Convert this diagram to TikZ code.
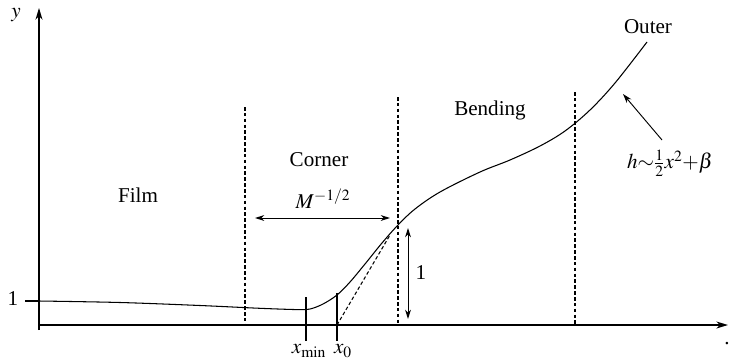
\documentclass[tikz,border=0pt]{standalone}
\usepackage{mathptmx}
\usepackage[no-math]{fontspec}
\setmainfont{Liberation Serif}
\usetikzlibrary{arrows.meta}

\begin{document}
\begin{tikzpicture}[
    x=0.03cm, y=-0.03cm,
    every node/.style={font=\fontsize{18}{21}\selectfont, inner sep=1pt},
    axis/.style={line width=1.1pt, -{Stealth[length=10pt,width=6pt,inset=3pt]}},
    region/.style={line width=0.9pt, dash pattern=on 3pt off 2pt},
    profile/.style={line width=0.9pt},
    tick/.style={line width=0.9pt},
    dim/.style={line width=0.8pt, {Stealth[length=8pt,width=5pt,inset=2.5pt]}-{Stealth[length=8pt,width=5pt,inset=2.5pt]}},
    pointer/.style={line width=0.8pt, -{Stealth[length=8pt,width=5pt,inset=2.5pt]}}
]
    \useasboundingbox (0,0) rectangle (730,360);

    % Axes
    \coordinate (origin) at (39,325);
    \coordinate (ybot) at (39,330);
    \coordinate (ytop) at (39,8);
    \coordinate (xend) at (728,325);
    \draw[axis] (ybot) -- (ytop);
    \draw[axis] (origin) -- (xend);
    \node (ylabel) at (16,15) {$y$};
    \node[inner sep=0pt] (xdot) at (727,344) {.};

    % Level one
    \coordinate (onetick) at (25,301);
    \coordinate (oneaxis) at (39,301);
    \draw[tick] (onetick) -- (oneaxis);
    \node (onelabel) at (13,299) {1};

    % Region boundaries
    \coordinate (filmtop) at (245,107);
    \coordinate (filmbot) at (245,325);
    \coordinate (cornertop) at (398,97);
    \coordinate (cornerbot) at (398,325);
    \coordinate (bendtop) at (575,92);
    \coordinate (bendbot) at (575,325);
    \draw[region] (filmtop) -- (filmbot);
    \draw[region] (cornertop) -- (cornerbot);
    \draw[region] (bendtop) -- (bendbot);

    % Profile
    \draw[profile] plot[smooth, tension=0.55] coordinates {
        (39,301) (120,302.5) (200,305.5) (260,308.3) (298,309.6) (310,309)
        (323,304) (337,295) (350,282) (365,264) (382,243) (398,225)
        (415,209) (440,192) (480,172) (510,160) (540,146) (565,131)
        (590,110) (615,83) (647,42)};

    % Tangent line
    \coordinate (tanbot) at (337,325);
    \coordinate (tantop) at (390,235);
    \draw[region] (tanbot) -- (tantop);

    % Ticks on the x axis
    \coordinate (xmintop) at (306,297);
    \coordinate (xminbot) at (306,341);
    \coordinate (xotop) at (337,293);
    \coordinate (xobot) at (337,341);
    \draw[tick] (xmintop) -- (xminbot);
    \draw[tick] (xotop) -- (xobot);
    \node (xminlabel) at (309,351) {$x_{\min}$};
    \node (xolabel) at (343,351) {$x_0$};

    % Region names
    \node (film) at (138,195) {Film};
    \node (corner) at (319,160) {Corner};
    \node (bending) at (490,110) {Bending};
    \node (outer) at (648,27) {Outer};

    % Corner width
    \coordinate (mleft) at (255,218);
    \coordinate (mright) at (390,218);
    \draw[dim] (mleft) -- (mright);
    \node (mlabel) at (323,199) {$M^{-1/2}$};

    % Unit height
    \coordinate (hbot) at (408,319);
    \coordinate (htop) at (408,228);
    \draw[dim] (hbot) -- (htop);
    \node (hlabel) at (421,273) {1};

    % Outer solution
    \node (outerlaw) at (670,163) {$h{\sim}\frac{1}{2}x^2{+}\beta$};
    \coordinate (lawtip) at (623,94);
    \coordinate (lawfoot) at (662,140);
    \draw[pointer] (lawfoot) -- (lawtip);
\end{tikzpicture}
\end{document}
